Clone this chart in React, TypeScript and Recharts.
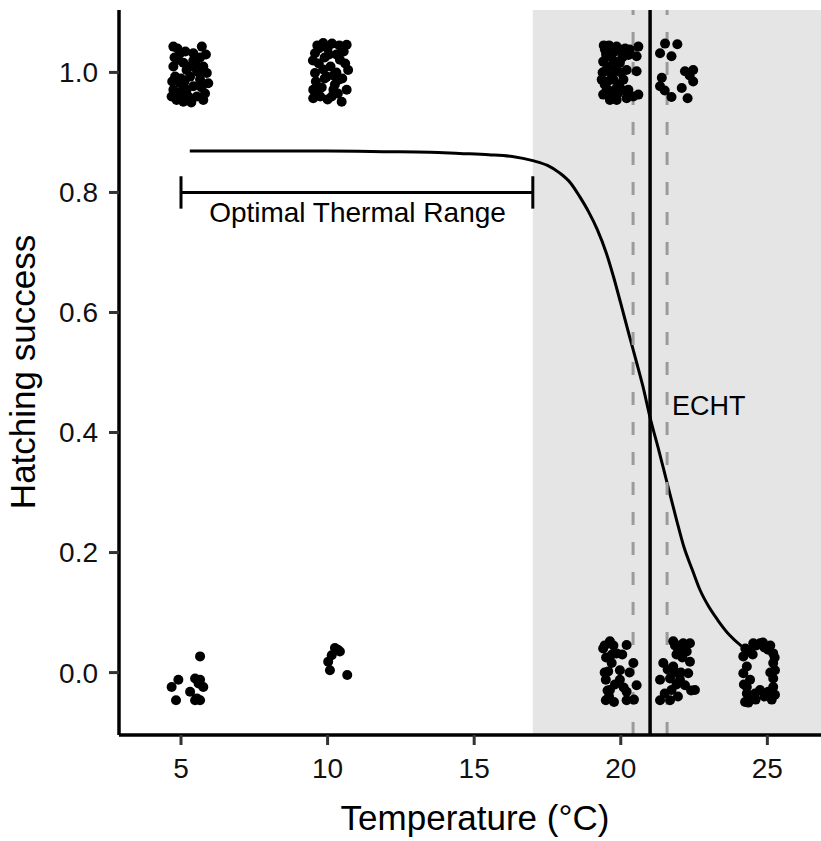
import {
  ComposedChart,
  Line,
  Scatter,
  XAxis,
  YAxis,
  ReferenceArea,
  ReferenceLine,
  ReferenceDot,
} from "recharts";

const FONT = "'Liberation Sans', Arial, sans-serif";

const tempTicks = [5, 10, 15, 20, 25];
const successTicks = [0, 0.2, 0.4, 0.6, 0.8, 1.0];
const tempDomain = [2.885, 26.83];
const successDomain = [-0.104, 1.104];

// fitted logistic curve
const fitTemp = [
  5.3, 8, 10, 12, 13.5, 14.5, 15.5, 16.3, 17.0, 17.5, 17.9, 18.3, 18.6, 18.9, 19.2, 19.5, 19.75, 20.0,
  20.3, 20.55, 20.75, 21.0, 21.3, 21.55, 21.9, 22.15, 22.45, 22.7, 23.0, 23.3, 23.7, 24.1, 24.4,
];
const fitSuccess = [
  0.869, 0.869, 0.869, 0.868, 0.867, 0.865, 0.863, 0.86, 0.853, 0.845, 0.833, 0.815, 0.793, 0.768, 0.738,
  0.7, 0.66, 0.615, 0.56, 0.515, 0.478, 0.425, 0.37, 0.322, 0.255, 0.21, 0.17, 0.138, 0.11, 0.088, 0.063,
  0.045, 0.035,
];

// jittered observations [temperature, hatched]
const hatched5 = [
  [4.74, 1.043], [4.97, 1.032], [5.71, 1.043], [5.42, 1.032], [5.08, 1.016], [5.42, 1.02], [5.76, 1.01],
  [5.88, 0.999], [4.74, 1.01], [4.8, 0.993], [5.31, 0.993], [5.65, 0.988], [4.74, 0.971], [4.97, 0.965],
  [5.19, 0.971], [4.85, 0.954], [5.08, 0.951], [5.54, 0.96], [5.76, 0.954], [5.82, 0.965], [5.42, 0.977],
  [4.97, 0.982], [5.54, 1.004], [5.19, 1.004], [4.91, 1.021], [5.93, 0.982], [4.78, 1.025], [5.0, 0.99],
  [5.25, 0.96], [5.6, 1.0], [5.15, 1.035], [4.68, 0.96], [5.5, 1.015], [5.85, 1.03], [5.35, 0.95],
  [4.7, 0.985], [5.05, 0.97], [5.3, 1.01], [5.7, 0.975], [4.88, 1.04], [5.12, 0.985], [5.65, 1.025],
];
const failed5 = [
  [5.65, 0.027], [4.91, -0.012], [4.68, -0.024], [4.83, -0.046], [5.31, -0.032], [5.48, -0.01],
  [5.65, -0.012], [5.76, -0.024], [5.54, -0.043], [5.65, -0.046], [5.48, -0.046], [5.6, -0.018],
];
const hatched10 = [
  [9.85, 1.049], [10.65, 1.046], [9.57, 1.032], [10.0, 1.04], [10.3, 1.03], [10.42, 1.021], [10.7, 1.004],
  [9.57, 0.999], [9.97, 0.993], [10.37, 0.988], [9.51, 0.971], [9.8, 0.975], [10.2, 0.971], [10.65, 0.971],
  [9.51, 0.957], [10.14, 0.96], [10.48, 0.951], [9.7, 1.015], [10.1, 1.01], [9.65, 1.045], [10.15, 1.048],
  [9.9, 1.025], [10.55, 1.035], [9.6, 0.985], [10.3, 1.0], [10.5, 0.99], [9.75, 0.96], [10.0, 0.955],
  [10.6, 1.015], [9.5, 1.02], [9.9, 0.99], [10.25, 0.98], [9.7, 1.04], [10.05, 1.03], [10.4, 1.045],
  [9.85, 1.005], [10.2, 0.995], [9.65, 0.97], [10.35, 0.965],
];
const failed10 = [
  [10.25, 0.041], [10.42, 0.035], [10.14, 0.029], [10.02, 0.018], [10.08, 0.004], [10.67, -0.004], [10.35, 0.038],
];
const hatched20 = [
  [19.46, 1.038], [19.86, 1.043], [19.97, 1.038], [20.31, 1.038], [20.6, 1.043], [19.4, 1.018], [19.63, 1.027],
  [19.97, 1.016], [20.26, 1.029], [20.54, 1.027], [19.46, 1.002], [19.86, 1.004], [20.2, 1.004], [20.54, 1.002],
  [19.35, 0.988], [19.75, 0.988], [20.09, 0.988], [19.52, 0.971], [19.86, 0.974], [20.26, 0.971], [20.6, 0.963],
  [19.4, 0.963], [19.86, 0.954], [20.2, 0.957], [20.43, 0.96], [19.63, 0.954], [19.55, 1.01], [19.7, 0.995],
  [19.45, 0.98], [19.6, 1.045], [19.75, 1.02], [19.9, 0.965], [19.5, 1.03], [20.05, 1.025], [19.65, 0.96],
  [19.8, 1.035], [20.1, 0.97], [19.38, 1.0], [20.0, 1.0], [19.55, 0.985], [19.7, 1.04], [19.95, 0.98],
  [19.42, 1.045], [19.6, 0.97], [20.15, 1.04], [19.8, 1.005],
];
const failed20 = [
  [19.63, 0.052], [19.4, 0.04], [20.2, 0.046], [19.86, 0.032], [19.69, 0.016], [19.97, 0.004], [19.57, 0.002],
  [20.43, 0.016], [19.49, -0.012], [19.97, -0.012], [20.54, -0.021], [19.63, -0.029], [20.2, -0.032],
  [19.49, -0.046], [19.77, -0.049], [20.2, -0.046], [19.5, 0.025], [19.8, -0.02], [20.3, 0.0], [19.6, -0.04],
  [20.05, 0.03], [19.45, 0.045], [19.75, 0.045], [20.1, -0.025], [20.45, -0.045], [19.55, -0.03],
  [19.7, 0.03], [19.45, 0.0],
];
const hatched22 = [
  [21.51, 1.048], [21.93, 1.047], [21.34, 1.032], [21.73, 1.027], [22.19, 1.002], [22.47, 1.004], [21.4, 0.991],
  [22.47, 0.985], [21.34, 0.977], [22.08, 0.974], [21.73, 0.959], [22.28, 0.957], [22.35, 0.995], [21.5, 0.97],
];
const failed22 = [
  [21.79, 0.052], [22.13, 0.049], [22.36, 0.049], [21.96, 0.038], [22.36, 0.018], [21.45, 0.016], [21.79, 0.01],
  [22.3, -0.001], [21.34, -0.012], [21.68, -0.01], [22.02, -0.012], [22.19, -0.021], [22.53, -0.029],
  [21.73, -0.029], [21.34, -0.046], [21.68, -0.046], [21.9, 0.03], [22.1, 0.025], [21.6, 0.005], [21.9, -0.02],
  [22.4, -0.03], [21.5, -0.035], [22.0, 0.045], [21.85, 0.0], [22.25, 0.035], [21.95, -0.04], [21.85, 0.045],
  [22.05, 0.0],
];
const failed25 = [
  [24.52, 0.049], [24.75, 0.049], [25.03, 0.038], [25.2, 0.032], [24.18, 0.027], [24.41, 0.035], [25.2, 0.016],
  [25.26, 0.004], [24.3, 0.01], [24.18, -0.001], [25.2, -0.01], [24.41, -0.012], [24.3, -0.024], [25.2, -0.024],
  [24.75, -0.029], [25.03, -0.032], [24.41, -0.04], [24.24, -0.049], [25.26, -0.037], [24.58, -0.035],
  [24.62, 0.045], [24.9, 0.042], [24.25, 0.04], [25.1, 0.0], [25.15, -0.045], [24.9, -0.04], [24.5, 0.03],
  [24.2, -0.02], [24.35, -0.05], [25.25, 0.025], [24.85, 0.05], [24.3, -0.035], [25.1, 0.045], [24.6, -0.045],
];

const echtLower = 20.42;
const echt = 21.0;
const echtUpper = 21.58;
const optimalRange = [5, 17];

const curve = fitTemp.map((t, i) => ({ t, p: fitSuccess[i] }));
const points = [
  ...hatched5, ...failed5, ...hatched10, ...failed10, ...hatched20,
  ...failed20, ...hatched22, ...failed22, ...failed25,
].map(([t, p]) => ({ t, p }));

const Dot = (props: any) => <circle cx={props.cx} cy={props.cy} r={5} fill="#000" />;

const textLabel = (value: string, anchor: string, size: number) => (props: any) => (
  <text x={props.cx} y={props.cy} textAnchor={anchor} fontSize={size} fontFamily={FONT} fill="#000">
    {value}
  </text>
);

export default function App() {
  return (
    <div style={{ position: "absolute", left: 0, top: 0, width: 821, height: 841, background: "#fff" }}>
      <ComposedChart width={821} height={841} margin={{ top: 10, right: 0, bottom: 0, left: 0 }}>
        <XAxis
          type="number"
          dataKey="t"
          domain={tempDomain}
          ticks={tempTicks}
          height={106}
          tickSize={10}
          tickMargin={13}
          axisLine={{ stroke: "#000", strokeWidth: 3.5 }}
          tickLine={{ stroke: "#333", strokeWidth: 3 }}
          tick={{ fontSize: 28, fill: "#111", fontFamily: FONT }}
          label={() => (
            <text x={475} y={830} textAnchor="middle" fontSize={35} fontFamily={FONT} fill="#000">
              Temperature (°C)
            </text>
          )}
        />
        <YAxis
          type="number"
          dataKey="p"
          domain={successDomain}
          ticks={successTicks}
          width={119}
          tickSize={10}
          tickMargin={11}
          tickFormatter={(v) => Number(v).toFixed(1)}
          axisLine={{ stroke: "#000", strokeWidth: 3.5 }}
          tickLine={{ stroke: "#333", strokeWidth: 3 }}
          tick={{ fontSize: 28, fill: "#111", fontFamily: FONT }}
          label={() => (
            <text
              x={35}
              y={372}
              transform="rotate(-90 35 372)"
              textAnchor="middle"
              fontSize={35}
              fontFamily={FONT}
              fill="#000"
            >
              Hatching success
            </text>
          )}
        />
        <ReferenceArea
          x1={optimalRange[1]}
          x2={tempDomain[1]}
          y1={successDomain[0]}
          y2={successDomain[1]}
          fill="#E5E5E5"
          fillOpacity={1}
          stroke="none"
        />
        <Line
          data={curve}
          dataKey="p"
          type="monotone"
          stroke="#000"
          strokeWidth={3}
          dot={false}
          activeDot={false}
          isAnimationActive={false}
        />
        <Scatter data={points} dataKey="p" shape={Dot} isAnimationActive={false} />
        <ReferenceLine x={echtLower} stroke="#9a9a9a" strokeWidth={3} strokeDasharray="13 17" />
        <ReferenceLine x={echtUpper} stroke="#9a9a9a" strokeWidth={3} strokeDasharray="13 17" />
        <ReferenceLine x={echt} stroke="#000" strokeWidth={3.5} />
        <ReferenceLine
          segment={[{ x: optimalRange[0], y: 0.8 }, { x: optimalRange[1], y: 0.8 }]}
          stroke="#000"
          strokeWidth={3}
        />
        <ReferenceLine
          segment={[{ x: optimalRange[0], y: 0.773 }, { x: optimalRange[0], y: 0.827 }]}
          stroke="#000"
          strokeWidth={3}
        />
        <ReferenceLine
          segment={[{ x: optimalRange[1], y: 0.773 }, { x: optimalRange[1], y: 0.827 }]}
          stroke="#000"
          strokeWidth={3}
        />
        <ReferenceDot x={11.02} y={0.751} r={0} shape={textLabel("Optimal Thermal Range", "middle", 28)} />
        <ReferenceDot x={23.0} y={0.429} r={0} shape={textLabel("ECHT", "middle", 27)} />
      </ComposedChart>
    </div>
  );
}
